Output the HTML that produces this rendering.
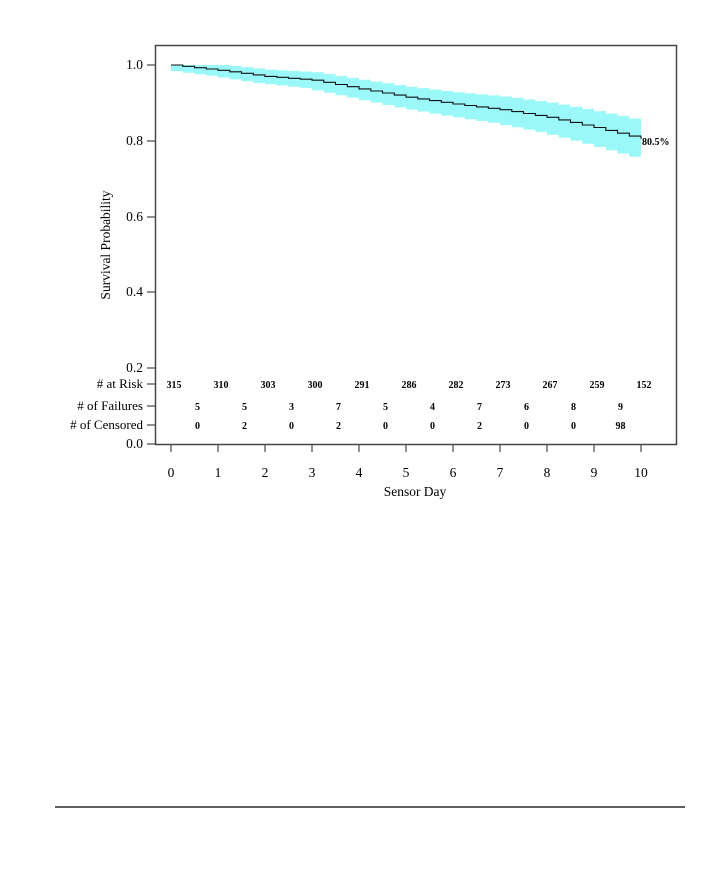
<!DOCTYPE html><html><head><style>body{margin:0;background:#fff}svg text{font-family:"Liberation Serif",serif}</style></head><body>
<svg id="s" width="720" height="864" xmlns="http://www.w3.org/2000/svg">
<rect x="155.5" y="45.5" width="521" height="399" fill="none" stroke="#444" stroke-width="1.5"/>
<path id="band" fill="#9af8f8"/>
<path id="curve" fill="none" stroke="#111" stroke-width="1.1"/>
<g font-size="13.5" text-anchor="end">
<text x="143" y="69">1.0</text><text x="143" y="145">0.8</text><text x="143" y="221">0.6</text><text x="143" y="296">0.4</text><text x="143" y="372">0.2</text><text x="143" y="448">0.0</text>
<text x="143" y="388" font-size="13"># at Risk</text><text x="143" y="410" font-size="13"># of Failures</text><text x="143" y="429" font-size="13"># of Censored</text>
</g>
<g stroke="#222"><line x1="147" x2="155" y1="65" y2="65"/><line x1="147" x2="155" y1="141" y2="141"/><line x1="147" x2="155" y1="217" y2="217"/><line x1="147" x2="155" y1="292" y2="292"/><line x1="147" x2="155" y1="368" y2="368"/><line x1="147" x2="155" y1="444" y2="444"/><line x1="147" x2="155" y1="384" y2="384"/><line x1="147" x2="155" y1="406" y2="406"/><line x1="147" x2="155" y1="425" y2="425"/></g>
<g id="xt" stroke="#222"></g>
<g id="xl" font-size="13.5" text-anchor="middle"></g>
<g id="tb" font-size="10" font-weight="bold" text-anchor="middle"></g>
<text x="415" y="496" font-size="13.5" text-anchor="middle">Sensor Day</text>
<text transform="translate(110,245) rotate(-90)" font-size="13.5" text-anchor="middle">Survival Probability</text>
<text x="642" y="145" font-size="10" font-weight="bold">80.5%</text>
<line x1="55" x2="685" y1="807" y2="807" stroke="#000" stroke-width="1.2"/>
</svg>
<script>
var ns="http://www.w3.org/2000/svg";
function X(d){return 171+47*d}function Y(s){return 444-s*379}
var k=[1,.986,.97,.96,.937,.915,.897,.882,.862,.835,.805];
function S(d){var i=Math.min(9,Math.floor(d));return k[i]+(k[i+1]-k[i])*(d-i)}
function W(d){return 0.012+0.0025*d+0.0001*d*d}
var c="M"+X(0)+","+Y(1),up=[],lo=[];
var st=0.25;
for(var d=st;d<=10.001;d+=st){c+=" H"+X(d).toFixed(1)+" V"+Y(S(d)).toFixed(1);}
var pd=0;
up.push(X(0)+","+Y(1));
for(var d=st;d<=10.001;d+=st){var s=S(pd);up.push(X(d).toFixed(1)+","+Y(Math.min(1,S(d-st)+W(d))).toFixed(1));up.push(X(d).toFixed(1)+","+Y(Math.min(1,S(d)+W(d))).toFixed(1));pd=d;}
for(var d=10;d>=-0.001;d-=st){lo.push(X(d).toFixed(1)+","+Y(S(d)-W(d)).toFixed(1));if(d>0)lo.push(X(d-st).toFixed(1)+","+Y(S(d)-W(d)).toFixed(1));}
document.getElementById("curve").setAttribute("d",c);
document.getElementById("band").setAttribute("d","M"+up.join(" L")+" L"+lo.join(" L")+"Z");
function el(g,t,a,txt){var e=document.createElementNS(ns,t);for(var q in a)e.setAttribute(q,a[q]);if(txt!=null)e.textContent=txt;document.getElementById(g).appendChild(e)}
var r=[315,310,303,300,291,286,282,273,267,259,152],f=[5,5,3,7,5,4,7,6,8,9],ce=[0,2,0,2,0,0,2,0,0,98];
for(var i=0;i<=10;i++){el("xt","line",{x1:X(i),x2:X(i),y1:445,y2:452});el("xl","text",{x:X(i),y:477},i);el("tb","text",{x:X(i)+3,y:388},r[i]);
if(i<10){el("tb","text",{x:X(i+.5)+3,y:410},f[i]);el("tb","text",{x:X(i+.5)+3,y:429},ce[i]);}}
</script></body></html>
